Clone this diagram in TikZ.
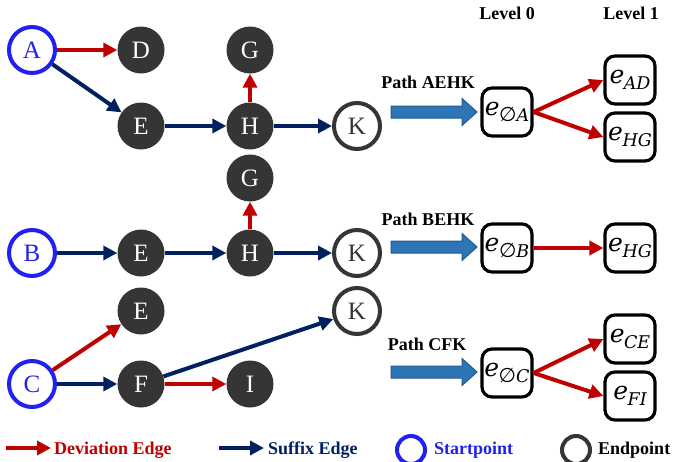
\documentclass[tikz,border=0pt]{standalone}
\usepackage{fontspec}
\setmainfont{Liberation Serif}
\newfontfamily\boxserif{DejaVu Serif}
\newfontfamily\emptyfont{DejaVu Sans}
\usetikzlibrary{arrows.meta}

\definecolor{devred}{HTML}{C00000}
\definecolor{sufnavy}{HTML}{002060}
\definecolor{startblue}{HTML}{2020F0}
\definecolor{nodegray}{HTML}{353535}
\definecolor{blockblue}{HTML}{2E75B6}
\definecolor{blockedge}{HTML}{1F5A8F}

\newcommand\letterfont{\fontsize{25}{30}\selectfont}
\newcommand\labelfont{\bfseries\fontsize{18}{22}\selectfont}
\newcommand\boxfont{\boxserif\itshape\fontsize{25}{30}\selectfont}
% edge label: italic e with a lowered subscript
\newcommand\esub[1]{e\kern-0.5pt\raisebox{-6pt}{\fontsize{17.5}{20}\selectfont #1}}
\newcommand\nulls{{\emptyfont\upshape\fontsize{20}{20}\selectfont ∅}}

\tikzset{
  dark/.style={circle, fill=nodegray, text=white, minimum size=47pt, inner sep=0pt, font=\letterfont},
  startpt/.style={circle, draw=startblue, line width=4pt, fill=white, text=startblue,
    minimum size=46pt, inner sep=0pt, font=\letterfont},
  endpt/.style={circle, draw=nodegray, line width=4pt, fill=white, text=nodegray,
    minimum size=46pt, inner sep=0pt, font=\letterfont},
  tip/.style={-{Triangle[length=14pt,width=14pt]}},
  dev/.style={draw=devred, line width=4pt, tip},
  suf/.style={draw=sufnavy, line width=4pt, tip},
  ebox/.style={rectangle, rounded corners=10pt, draw=black, line width=3.2pt, fill=white,
    minimum width=50pt, minimum height=48pt, inner sep=0pt, font=\boxfont},
  lbl/.style={anchor=base, font=\labelfont, inner sep=0pt},
  legtext/.style={anchor=base west, font=\labelfont, inner sep=0pt},
  legring/.style={circle, line width=4pt, minimum size=28pt, inner sep=0pt},
  blockarrow/.pic={
    \draw[fill=blockblue, draw=blockedge, line width=1pt]
      (-43,-6) -- (28,-6) -- (28,-13.5) -- (43,0) -- (28,13.5) -- (28,6) -- (-43,6) -- cycle;
  }
}

\begin{document}
\begin{tikzpicture}[x=1pt,y=-1pt]
\useasboundingbox (0,0) rectangle (674,461);

% ---------- path A E H K ----------
\node[startpt] (A)  at (32,50)   {A};
\node[dark]    (D)  at (141,50)  {D};
\node[dark]    (G1) at (250,50)  {G};
\node[dark]    (E1) at (141,126) {E};
\node[dark]    (H1) at (250,126) {H};
\node[endpt]   (K1) at (357,126) {K};

\draw[dev] (A) -- (D);
\draw[suf] (A) -- (E1);
\draw[suf] (E1) -- (H1);
\draw[suf] (H1) -- (K1);
\draw[dev] (H1) -- (G1);

% ---------- path B E H K ----------
\node[dark]    (G2) at (250,178) {G};
\node[startpt] (B)  at (32,253)  {B};
\node[dark]    (E2) at (141,253) {E};
\node[dark]    (H2) at (250,253) {H};
\node[endpt]   (K2) at (357,253) {K};

\draw[suf] (B) -- (E2);
\draw[suf] (E2) -- (H2);
\draw[suf] (H2) -- (K2);
\draw[dev] (H2) -- (G2);

% ---------- path C F K ----------
\node[dark]    (E3) at (141,311) {E};
\node[endpt]   (K3) at (357,311) {K};
\node[startpt] (C)  at (32,384)  {C};
\node[dark]    (F)  at (141,384) {F};
\node[dark]    (I)  at (250,384) {I};

\draw[dev] (C) -- (E3);
\draw[suf] (C) -- (F);
\draw[dev] (F) -- (I);
\draw[suf] (F) -- (K3);

% ---------- level headers ----------
\node[lbl] (lv0) at (507,19) {Level 0};
\node[lbl] (lv1) at (631,19) {Level 1};

% ---------- block arrows and path names ----------
\node[lbl] (pA) at (428,88)  {Path AEHK};
\node[lbl] (pB) at (428,225) {Path BEHK};
\node[lbl] (pC) at (427,350) {Path CFK};
\pic at (434,112) {blockarrow};
\pic at (434,247) {blockarrow};
\pic at (434,372) {blockarrow};

% ---------- edge trees ----------
\node[ebox] (r0A)  at (507,112) {\esub{\nulls A}};
\node[ebox] (rAD)  at (630,80)  {\esub{AD}};
\node[ebox] (rHG1) at (630,137) {\esub{HG}};
\draw[dev] (r0A.east) -- (rAD.west);
\draw[dev] (r0A.east) -- (rHG1.west);

\node[ebox] (r0B)  at (507,248) {\esub{\nulls B}};
\node[ebox] (rHG2) at (630,248) {\esub{HG}};
\draw[dev] (r0B) -- (rHG2);

\node[ebox] (r0C)  at (507,373) {\esub{\nulls C}};
\node[ebox] (rCE)  at (630,339) {\esub{CE}};
\node[ebox] (rFI)  at (630,396) {\esub{FI}};
\draw[dev] (r0C.east) -- (rCE.west);
\draw[dev] (r0C.east) -- (rFI.west);

% ---------- legend ----------
\coordinate (lgDa) at (6,448);
\coordinate (lgDb) at (51,448);
\draw[dev] (lgDa) -- (lgDb);
\node[legtext, text=devred] (lgDt) at (54,454) {Deviation Edge};

\coordinate (lgSa) at (219,448);
\coordinate (lgSb) at (264,448);
\draw[suf] (lgSa) -- (lgSb);
\node[legtext, text=sufnavy] (lgSt) at (268,454) {Suffix Edge};

\node[legring, draw=startblue] (lgS) at (411,450) {};
\node[legtext, text=startblue] (lgSpt) at (434,454) {Startpoint};

\node[legring, draw=nodegray] (lgE) at (576,450) {};
\node[legtext, text=black] (lgEpt) at (598,454) {Endpoint};
\end{tikzpicture}
\end{document}
